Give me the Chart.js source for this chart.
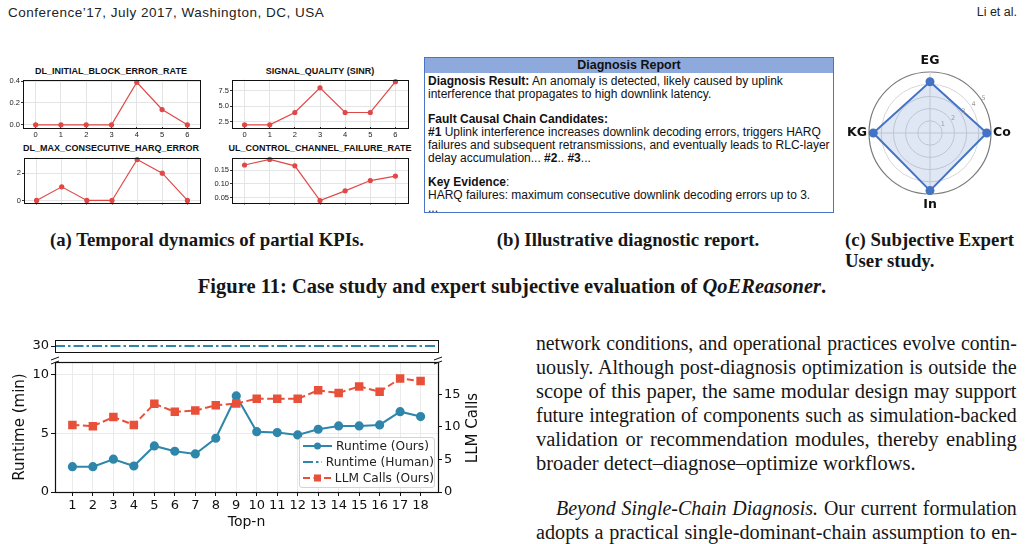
<!DOCTYPE html>
<html>
<head>
<meta charset="utf-8">
<title>Figure 11 - QoEReasoner case study</title>
<script src="https://cdn.jsdelivr.net/npm/chart.js@4.4.1/dist/chart.umd.min.js"></script>
<style>
  body { margin:0; width:1025px; height:544px; position:relative; overflow:hidden; background:#fff; color:#161616; font-family:"Liberation Serif", serif; }
  .abs { position:absolute; white-space:nowrap; }
  canvas { position:absolute; }
  .runhead { top:5px; font-family:"Liberation Sans", Arial, sans-serif; font-size:12.5px; line-height:15px; color:#222; }
  .kpiTitle { font:bold 9px "Liberation Sans", Arial, sans-serif; line-height:11px; transform:translateX(-50%); color:#111; }
  .cap { font-weight:bold; font-size:18.8px; line-height:21px; }
  .ctr { transform:translateX(-50%); }
  .col { font-size:20px; line-height:24px; transform-origin:0 0; }
  #report { left:424px; top:57px; width:408px; height:154px; border:1.5px solid #4a74c6; font-family:"Liberation Sans", Arial, sans-serif; font-size:12px; line-height:13px; color:#111; background:#fff; white-space:nowrap; }
  #report .rhead { height:15px; background:#8eaadc; text-align:center; font-weight:bold; font-size:12.5px; line-height:15px; }
  #report .rbody { padding:2px 0 0 3px; }
  #report p { margin:0 0 11.5px 0; }
  #legend { left:299px; top:437px; width:134px; height:49px; border:1px solid #d4d4d4; border-radius:3px; background:rgba(255,255,255,0.85); font-family:"DejaVu Sans", sans-serif; font-size:12.2px; color:#222; }
  #legend .lrow { height:16px; display:flex; align-items:center; padding-left:3px; }
  #legend svg { margin-right:4px; }
  #llmTitle { left:472px; top:428px; font-family:"DejaVu Sans", sans-serif; font-size:15px; transform:translate(-50%,-50%) rotate(-90deg); color:#111; }
</style>
</head>
<body>

<div class="abs runhead" style="left:8px;font-size:13.5px;letter-spacing:0.5px">Conference’17, July 2017, Washington, DC, USA</div>
<div class="abs runhead" style="right:8px">Li et al.</div>

<div class="abs kpiTitle" style="left:111px;top:66px">DL_INITIAL_BLOCK_ERROR_RATE</div>
<div class="abs kpiTitle" style="left:320px;top:66px">SIGNAL_QUALITY (SINR)</div>
<div class="abs kpiTitle" style="left:111px;top:143px">DL_MAX_CONSECUTIVE_HARQ_ERROR</div>
<div class="abs kpiTitle" style="left:320px;top:143px">UL_CONTROL_CHANNEL_FAILURE_RATE</div>

<canvas id="kpi1" width="206" height="70" style="left:0px;top:74px"></canvas>
<canvas id="kpi2" width="209" height="70" style="left:205px;top:74px"></canvas>
<canvas id="kpi3" width="206" height="56" style="left:0px;top:152px"></canvas>
<canvas id="kpi4" width="209" height="56" style="left:205px;top:152px"></canvas>

<div id="report" class="abs">
  <div class="rhead">Diagnosis Report</div>
  <div class="rbody">
    <p><b>Diagnosis Result:</b> An anomaly is detected, likely caused by uplink<br>interference that propagates to high downlink latency.</p>
    <p><b>Fault Causal Chain Candidates:</b><br><b>#1</b> Uplink interference increases downlink decoding errors, triggers HARQ<br>failures and subsequent retransmissions, and eventually leads to RLC-layer<br>delay accumulation... <b>#2</b>.. <b>#3</b>...</p>
    <p><b>Key Evidence</b>:<br>HARQ failures: maximum consecutive downlink decoding errors up to 3.<br>...</p>
  </div>
</div>

<canvas id="radar" width="185" height="170" style="left:840px;top:50px"></canvas>

<div class="abs cap ctr" style="left:207px;top:229px">(a) Temporal dynamics of partial KPIs.</div>
<div class="abs cap ctr" style="left:628px;top:229px">(b) Illustrative diagnostic report.</div>
<div class="abs cap" style="left:845px;top:229px">(c) Subjective Expert<br>User study.</div>
<div class="abs cap ctr" style="left:512px;top:276px;font-size:20.5px">Figure 11: Case study and expert subjective evaluation of <i>QoEReasoner</i>.</div>

<canvas id="runtimeTop" width="500" height="32" style="left:0px;top:330px"></canvas>
<canvas id="runtimeMain" width="500" height="192" style="left:0px;top:352px"></canvas>
<div id="llmTitle" class="abs">LLM Calls</div>

<div id="legend" class="abs">
  <div class="lrow"><svg width="29" height="10"><line x1="0" y1="5" x2="29" y2="5" stroke="#2e86ab" stroke-width="2"/><circle cx="14.5" cy="5" r="3.5" fill="#2e86ab"/></svg><span>Runtime (Ours)</span></div>
  <div class="lrow"><svg width="29" height="10"><line x1="0" y1="5" x2="29" y2="5" stroke="#2e86ab" stroke-width="1.8" stroke-dasharray="10 3 2.5 3"/></svg><span>Runtime (Human)</span></div>
  <div class="lrow"><svg width="29" height="10"><line x1="0" y1="5" x2="29" y2="5" stroke="#e8503a" stroke-width="2" stroke-dasharray="7 3.5"/><rect x="11" y="1.5" width="7" height="7" fill="#e8503a"/></svg><span>LLM Calls (Ours)</span></div>
</div>

<div class="abs col" style="left:536px;top:331px"><span>network conditions, and operational practices evolve contin-</span></div>
<div class="abs col" style="left:536px;top:355px"><span>uously. Although post-diagnosis optimization is outside the</span></div>
<div class="abs col" style="left:536px;top:379px"><span>scope of this paper, the same modular design may support</span></div>
<div class="abs col" style="left:536px;top:403px"><span>future integration of components such as simulation-backed</span></div>
<div class="abs col" style="left:536px;top:427px"><span>validation or recommendation modules, thereby enabling</span></div>
<div class="abs col" data-last="1" style="left:536px;top:451px"><span>broader detect–diagnose–optimize workflows.</span></div>
<div class="abs col" data-indent="20" style="left:556px;top:496px"><span><i>Beyond Single-Chain Diagnosis.</i> Our current formulation</span></div>
<div class="abs col" style="left:536px;top:520px"><span>adopts a practical single-dominant-chain assumption to en-</span></div>

<script>
// (a) KPI time steps and values
const kpiSteps = [0, 1, 2, 3, 4, 5, 6];
const blockErrorRate = [0, 0, 0, 0, 0.39, 0.14, 0];
const sinr = [2, 2, 4, 8, 4, 4, 9];
const harqErrors = [0, 1, 0, 0, 3, 2, 0];
const ulFailureRate = [0.168, 0.188, 0.165, 0.04, 0.075, 0.112, 0.128];

// (c) expert scores
const radarLabels = ['EG', 'Co', 'In', 'KG'];
const radarScores = [4.2, 4.65, 4.72, 4.65];
const radarTicks = [1, 2, 3, 4, 5];

// runtime vs top-n
const topN = [1, 2, 3, 4, 5, 6, 7, 8, 9, 10, 11, 12, 13, 14, 15, 16, 17, 18];
const runtimeOurs = [2.16, 2.16, 2.8, 2.22, 3.93, 3.48, 3.25, 4.59, 8.2, 5.15, 5.07, 4.87, 5.36, 5.64, 5.64, 5.73, 6.86, 6.44];
const runtimeHuman = 30;
const llmCalls = [10.3, 10.1, 11.5, 10.3, 13.55, 12.3, 12.5, 13.3, 13.6, 14.3, 14.3, 14.3, 15.6, 15.2, 16.2, 15.4, 17.4, 17.05];

const kpiRed = '#e04848';
const blue = '#2e86ab';
const red = '#e8503a';
const radarBlue = '#4472c4';

// right column lines: widen the serif slightly and justify to the column
const colWidth = 481;
const colStretch = 1.025;
document.querySelectorAll('.col').forEach(el => {
    const span = el.firstElementChild;
    const avail = colWidth - (+el.dataset.indent || 0);
    const w = span.offsetWidth;
    let stretch = colStretch;
    if (!el.dataset.last) {
        if (w * stretch > avail - 4) stretch = (avail - 4) / w;
        const gaps = (span.textContent.match(/ /g) || []).length;
        if (gaps) el.style.wordSpacing = ((avail / stretch - w) / gaps) + 'px';
    }
    el.style.transform = 'scaleX(' + stretch + ')';
});

// box around the plot area like matplotlib spines
const frame = {
    id: 'frame',
    afterDraw(chart, args, opts) {
        const a = chart.chartArea;
        const ctx = chart.ctx;
        ctx.save();
        ctx.strokeStyle = '#111';
        ctx.lineWidth = opts.width || 1;
        ctx.strokeRect(Math.round(a.left) + 0.5, Math.round(a.top) + 0.5, Math.round(a.right - a.left), Math.round(a.bottom - a.top));
        ctx.restore();
    }
};

function kpiChart(id, values, yMin, yMax, yStep, decimals, yWidth, xHeight) {
    new Chart(document.getElementById(id), {
        type: 'line',
        data: {
            datasets: [{
                data: kpiSteps.map((s, i) => ({ x: s, y: values[i] })),
                borderColor: kpiRed,
                backgroundColor: kpiRed,
                borderWidth: 1.2,
                pointRadius: 2,
                clip: false
            }]
        },
        options: {
            responsive: false,
            animation: false,
            events: [],
            layout: { padding: { top: 4, right: 6 } },
            plugins: { legend: { display: false }, tooltip: { enabled: false } },
            scales: {
                x: {
                    type: 'linear', min: -0.5, max: 6.5,
                    afterBuildTicks: s => { s.ticks = kpiSteps.map(v => ({ value: v })); },
                    ticks: { padding: 1, color: '#222', font: { family: 'Liberation Sans', size: 7.5 } },
                    grid: { color: '#e4e4e4', tickLength: 2, tickColor: '#333' },
                    border: { display: false },
                    afterFit: s => { s.height = xHeight; }
                },
                y: {
                    min: yMin, max: yMax,
                    ticks: { stepSize: yStep, includeBounds: false, padding: 1, color: '#222', font: { family: 'Liberation Sans', size: 7.5 },
                        callback: v => v.toFixed(decimals) },
                    grid: { color: '#e4e4e4', tickLength: 2, tickColor: '#333' },
                    border: { display: false },
                    afterFit: s => { s.width = yWidth; }
                }
            }
        },
        plugins: [frame]
    });
}

kpiChart('kpi1', blockErrorRate, -0.02, 0.415, 0.2, 1, 23, 17);
kpiChart('kpi2', sinr, 1.65, 9.35, 2.5, 1, 27, 17);
kpiChart('kpi3', harqErrors, -0.15, 3.15, 2, 0, 24, 4);
kpiChart('kpi4', ulFailureRate, 0.033, 0.195, 0.05, 2, 27, 4);

// radar: labels and ring values drawn around the scale
const radarText = {
    id: 'radarText',
    afterDraw(chart) {
        const s = chart.scales.r;
        const ctx = chart.ctx;
        ctx.save();
        ctx.fillStyle = '#111';
        ctx.font = 'bold 12.5px "DejaVu Sans"';
        ctx.textBaseline = 'middle';
        chart.data.labels.forEach((lab, i) => {
            const p = s.getPointPosition(i, s.drawingArea);
            const dx = p.x - s.xCenter;
            const dy = p.y - s.yCenter;
            if (Math.abs(dx) < 1) {
                ctx.textAlign = 'center';
                ctx.fillText(lab, p.x, p.y + (dy < 0 ? -11 : 11));
            } else {
                ctx.textAlign = dx > 0 ? 'left' : 'right';
                ctx.fillText(lab, p.x + (dx > 0 ? 2 : -2), p.y);
            }
        });
        ctx.fillStyle = '#999';
        ctx.font = '6.5px "DejaVu Sans"';
        ctx.textAlign = 'center';
        const ang = (57 - 90) * Math.PI / 180;
        radarTicks.forEach(v => {
            const d = s.getDistanceFromCenterForValue(v) + 3;
            ctx.fillText(String(v), s.xCenter + Math.cos(ang) * d, s.yCenter + Math.sin(ang) * d);
        });
        ctx.restore();
    }
};

new Chart(document.getElementById('radar'), {
    type: 'radar',
    data: {
        labels: radarLabels,
        datasets: [{
            data: radarScores,
            borderColor: radarBlue,
            backgroundColor: 'rgba(68,114,196,0.17)',
            fill: true,
            borderWidth: 2,
            pointRadius: 3.5,
            pointBackgroundColor: radarBlue,
            pointBorderColor: radarBlue
        }]
    },
    options: {
        responsive: false,
        animation: false,
        events: [],
        plugins: { legend: { display: false }, tooltip: { enabled: false } },
        scales: {
            r: {
                min: 0, max: 5,
                ticks: { display: false, stepSize: 1 },
                pointLabels: { display: false },
                grid: { circular: true, color: c => c.index === 5 ? '#7a7a7a' : '#d6d6d6', lineWidth: c => c.index === 5 ? 1.2 : 1 },
                angleLines: { color: '#d6d6d6' },
                afterFit: s => { s.xCenter = 90; s.yCenter = 83; s.drawingArea = 61; }
            }
        }
    },
    plugins: [radarText]
});

// runtime chart, broken y axis: top panel holds the human runtime
const xMin = 0.15, xMax = 18.85;
const tickFont = { family: 'DejaVu Sans', size: 13 };

new Chart(document.getElementById('runtimeTop'), {
    type: 'line',
    data: {
        datasets: [{
            data: [{ x: xMin, y: runtimeHuman }, { x: xMax, y: runtimeHuman }],
            borderColor: blue,
            borderWidth: 1.8,
            borderDash: [10, 3, 2.5, 3],
            pointRadius: 0
        }]
    },
    options: {
        responsive: false,
        animation: false,
        events: [],
        layout: { padding: { top: 6, right: 62 } },
        plugins: { legend: { display: false }, tooltip: { enabled: false } },
        scales: {
            x: {
                type: 'linear', min: xMin, max: xMax,
                ticks: { display: false },
                grid: { display: false },
                border: { display: false },
                afterFit: s => { s.height = 0; }
            },
            y: {
                min: 26, max: 34,
                ticks: { stepSize: 5, includeBounds: false, padding: 2, color: '#111', font: tickFont },
                grid: { display: true, drawOnChartArea: false, tickLength: 4, tickColor: '#111' },
                border: { display: false },
                afterFit: s => { s.width = 55; }
            }
        }
    },
    plugins: [frame]
});

const breakMarks = {
    id: 'breakMarks',
    afterDraw(chart) {
        const a = chart.chartArea;
        const ctx = chart.ctx;
        ctx.save();
        ctx.strokeStyle = '#111';
        ctx.lineWidth = 1;
        [a.left, a.right].forEach(x => {
            [-4, 0].forEach(dy => {
                ctx.beginPath();
                ctx.moveTo(x - 4, a.top + dy + 2);
                ctx.lineTo(x + 4, a.top + dy - 1);
                ctx.stroke();
            });
        });
        ctx.restore();
    }
};

new Chart(document.getElementById('runtimeMain'), {
    type: 'line',
    data: {
        datasets: [{
            label: 'LLM Calls (Ours)',
            yAxisID: 'y1',
            data: topN.map((n, i) => ({ x: n, y: llmCalls[i] })),
            borderColor: red,
            backgroundColor: red,
            borderWidth: 2,
            borderDash: [7, 3.5],
            pointStyle: 'rect',
            pointRadius: 4.6
        }, {
            label: 'Runtime (Ours)',
            yAxisID: 'y',
            data: topN.map((n, i) => ({ x: n, y: runtimeOurs[i] })),
            borderColor: blue,
            backgroundColor: blue,
            borderWidth: 2,
            pointRadius: 3.6
        }]
    },
    options: {
        responsive: false,
        animation: false,
        events: [],
        layout: { padding: { top: 10 } },
        plugins: { legend: { display: false }, tooltip: { enabled: false }, frame: { width: 1.2 } },
        scales: {
            x: {
                type: 'linear', min: xMin, max: xMax,
                afterBuildTicks: s => { s.ticks = topN.map(v => ({ value: v })); },
                ticks: { padding: 2, maxRotation: 0, autoSkip: false, color: '#111', font: tickFont },
                grid: { color: '#ebebeb', tickLength: 4, tickColor: '#111' },
                border: { display: false },
                title: { display: true, text: 'Top-n', color: '#111', font: { family: 'DejaVu Sans', size: 14 }, padding: { top: 0, bottom: 13 } },
                afterFit: s => { s.height = 52; }
            },
            y: {
                position: 'left', min: 0, max: 11.1,
                ticks: { stepSize: 5, includeBounds: false, padding: 2, color: '#111', font: tickFont },
                grid: { color: '#ebebeb', tickLength: 4, tickColor: '#111' },
                border: { display: false },
                title: { display: true, text: 'Runtime (min)', color: '#111', font: { family: 'DejaVu Sans', size: 15 }, padding: { top: 11, bottom: 0 } },
                afterFit: s => { s.width = 55; }
            },
            y1: {
                position: 'right', min: 0, max: 19.95,
                ticks: { stepSize: 5, includeBounds: false, padding: 2, color: '#111', font: tickFont },
                grid: { drawOnChartArea: false, tickLength: 4, tickColor: '#111' },
                border: { display: false },
                afterFit: s => { s.width = 62; }
            }
        }
    },
    plugins: [frame, breakMarks]
});
</script>
</body>
</html>
